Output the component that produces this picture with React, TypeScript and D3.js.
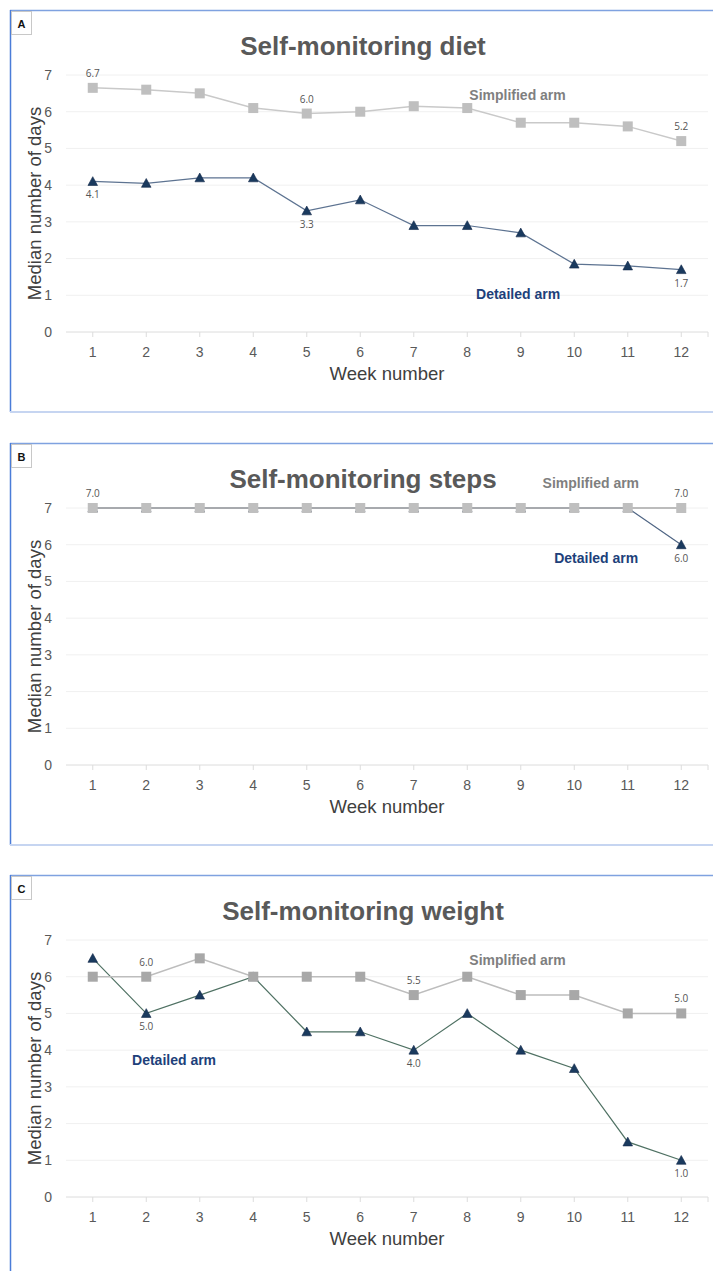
import React from "react";
import * as d3 from "d3";

const weeks = [1, 2, 3, 4, 5, 6, 7, 8, 9, 10, 11, 12];
const yTicks = [0, 1, 2, 3, 4, 5, 6, 7];

const dietSimplified = [6.65, 6.6, 6.5, 6.1, 5.95, 6.0, 6.15, 6.1, 5.7, 5.7, 5.6, 5.2];
const dietDetailed = [4.1, 4.05, 4.2, 4.2, 3.3, 3.6, 2.9, 2.9, 2.7, 1.85, 1.8, 1.7];
const stepsSimplified = [7, 7, 7, 7, 7, 7, 7, 7, 7, 7, 7, 7];
const stepsDetailed = [7, 7, 7, 7, 7, 7, 7, 7, 7, 7, 7, 6];
const weightSimplified = [6, 6, 6.5, 6, 6, 6, 5.5, 6, 5.5, 5.5, 5, 5];
const weightDetailed = [6.5, 5, 5.5, 6, 4.5, 4.5, 4, 5, 4, 3.5, 1.5, 1];

const dietSimplifiedLabels = [1, 5, 12];
const dietDetailedLabels = [1, 5, 12];
const stepsSimplifiedLabels = [1, 12];
const stepsDetailedLabels = [12];
const weightSimplifiedLabels = [2, 7, 12];
const weightDetailedLabels = [2, 7, 12];

const titles = ["Self-monitoring diet", "Self-monitoring steps", "Self-monitoring weight"];
const panelLetters = ["A", "B", "C"];
const simplifiedName = "Simplified arm";
const detailedName = "Detailed arm";
const xTitle = "Week number";
const yTitle = "Median number of days";

// annotation anchors, in data coordinates (week, value)
const simplifiedAnnot = [[8.94, 6.32], [10.31, 7.54], [8.94, 6.32]];
const detailedAnnot = [[8.95, 0.9], [10.41, 5.5], [2.52, 3.6]];

const panels = [
  {
    top: 10, simplified: dietSimplified, detailed: dietDetailed,
    sLabels: dietSimplifiedLabels, dLabels: dietDetailedLabels,
    sq: "#bfbfbf", sLine: "#c9c9c9", dLine: "#5d7391",
  },
  {
    top: 443, simplified: stepsSimplified, detailed: stepsDetailed,
    sLabels: stepsSimplifiedLabels, dLabels: stepsDetailedLabels,
    sq: "#bfbfbf", sLine: "#a9a9a9", dLine: "#4f6584",
  },
  {
    top: 875, simplified: weightSimplified, detailed: weightDetailed,
    sLabels: weightSimplifiedLabels, dLabels: weightDetailedLabels,
    sq: "#a8a8a8", sLine: "#bdbdbd", dLine: "#4f7163",
  },
];

const W = 713;
const H = 1271;
const fmt = d3.format(".1f");
const sans = "'Liberation Sans', Arial, Helvetica, sans-serif";
const labelFont = "'Open Sans', 'Liberation Sans', sans-serif";

function Panel({ p, i }: { p: any; i: number }) {
  const T = p.top;
  const x = d3.scaleLinear().domain([0.5, 12.5]).range([66, 708]);
  const y = d3.scaleLinear().domain([0, 7]).range([T + 322, T + 65]);
  const line = d3
    .line<number>()
    .x((_, k) => x(weeks[k]))
    .y((v) => y(v));
  const tri = (cx: number, cy: number) =>
    `M${cx},${cy - 4.8}L${cx + 4.8},${cy + 4}L${cx - 4.8},${cy + 4}Z`;
  const sa = simplifiedAnnot[i];
  const da = detailedAnnot[i];
  return (
    <g>
      {/* panel frame */}
      <line x1={10} x2={W} y1={T + 0.5} y2={T + 0.5} stroke="#7fa2e0" strokeWidth={1.5} />
      <line x1={10.5} x2={10.5} y1={T} y2={T + 402} stroke="#4a7cd8" strokeWidth={1.5} />
      <line x1={10} x2={W} y1={T + 402} y2={T + 402} stroke="#c6d5f1" strokeWidth={2} />
      <rect x={11.5} y={T + 1.5} width={20} height={23} fill="#fff" stroke="#c8c8c8" />
      <text x={21.5} y={T + 17.5} textAnchor="middle" fontFamily={sans} fontWeight="bold" fontSize={11} fill="#111">
        {panelLetters[i]}
      </text>
      {/* title */}
      <text x={363} y={T + 45} textAnchor="middle" fontFamily={sans} fontWeight="bold" fontSize={26} fill="#595959">
        {titles[i]}
      </text>
      {/* grid */}
      {yTicks.map((t) => (
        <g key={t}>
          <line x1={66} x2={708} y1={y(t)} y2={y(t)} stroke={t === 0 ? "#dcdcdc" : "#f0f0f0"} strokeWidth={1} />
          <text x={52} y={y(t)} dy="0.35em" textAnchor="end" fontFamily={sans} fontSize={14} fill="#595959">
            {t}
          </text>
        </g>
      ))}
      {weeks.map((w) => (
        <g key={w}>
          <line x1={x(w)} x2={x(w)} y1={y(0)} y2={y(0) + 5} stroke="#dcdcdc" />
          <text x={x(w)} y={y(0) + 25} textAnchor="middle" fontFamily={sans} fontSize={14} fill="#595959">
            {w}
          </text>
        </g>
      ))}
      <line x1={708} x2={708} y1={y(0)} y2={y(0) + 5} stroke="#dcdcdc" />
      <text x={387} y={T + 370} textAnchor="middle" fontFamily={sans} fontSize={18.5} fill="#404040">
        {xTitle}
      </text>
      <text
        transform={`translate(40.5,${(y(0) + y(7)) / 2}) rotate(-90)`}
        textAnchor="middle"
        fontFamily={sans}
        fontSize={18.5}
        fill="#404040"
      >
        {yTitle}
      </text>
      {/* detailed series */}
      <path d={line(p.detailed) || ""} fill="none" stroke={p.dLine} strokeWidth={1.2} />
      {p.detailed.map((v: number, k: number) => (
        <path key={k} d={tri(x(weeks[k]), y(v))} fill="#1a3a5e" stroke="#12294a" strokeWidth={0.6} />
      ))}
      {/* simplified series */}
      <path d={line(p.simplified) || ""} fill="none" stroke={p.sLine} strokeWidth={1.5} />
      {p.simplified.map((v: number, k: number) => (
        <rect key={k} x={x(weeks[k]) - 5} y={y(v) - 5} width={10} height={10} fill={p.sq} />
      ))}
      {/* data labels */}
      {p.sLabels.map((w: number) => (
        <text key={"s" + w} x={x(w)} y={y(p.simplified[w - 1]) - 11} textAnchor="middle" fontFamily={labelFont} fontSize={10} fill="#555">
          {fmt(p.simplified[w - 1])}
        </text>
      ))}
      {p.dLabels.map((w: number) => (
        <text key={"d" + w} x={x(w)} y={y(p.detailed[w - 1]) + 17} textAnchor="middle" fontFamily={labelFont} fontSize={10} fill="#555">
          {fmt(p.detailed[w - 1])}
        </text>
      ))}
      {/* annotations */}
      <text x={x(sa[0])} y={y(sa[1])} textAnchor="middle" fontFamily={sans} fontWeight="bold" fontSize={14} fill="#7f7f7f">
        {simplifiedName}
      </text>
      <text x={x(da[0])} y={y(da[1])} textAnchor="middle" fontFamily={sans} fontWeight="bold" fontSize={14} fill="#203f7a">
        {detailedName}
      </text>
    </g>
  );
}

export default function App() {
  return (
    <svg width={W} height={H} style={{ position: "absolute", left: 0, top: 0, background: "#fff" }}>
      <rect width={W} height={H} fill="#fff" />
      {panels.map((p, i) => (
        <Panel key={i} p={p} i={i} />
      ))}
    </svg>
  );
}
